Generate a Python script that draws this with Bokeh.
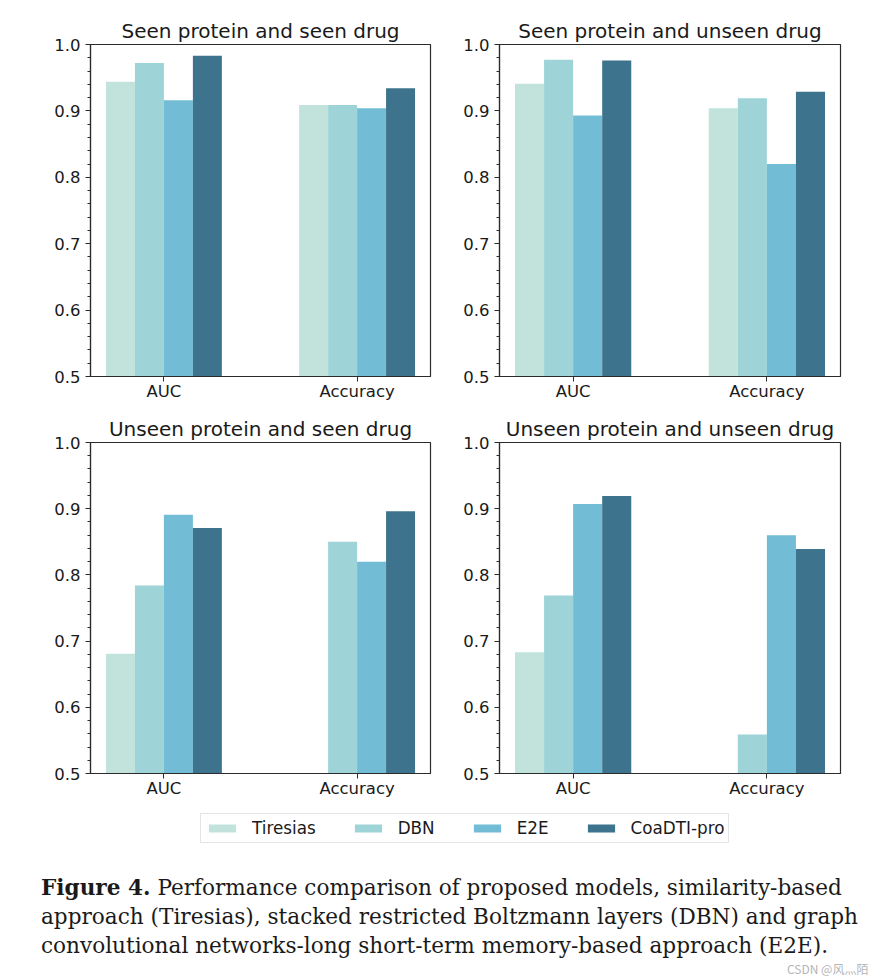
import numpy as np
from bokeh.plotting import figure
from bokeh.layouts import column, row
from bokeh.models import (Range1d, FixedTicker, PrintfTickFormatter, Legend,
                          LegendItem, ColumnDataSource, Div)
from bokeh.embed import file_html
from bokeh.resources import INLINE

# ---------------- data ----------------
metrics = ["AUC", "Accuracy"]
models = ["Tiresias", "DBN", "E2E", "CoaDTI-pro"]
colors = ["#c1e3dc", "#9ed3d7", "#72bdd5", "#3d738c"]

panel_titles = ["Seen protein and seen drug", "Seen protein and unseen drug",
                "Unseen protein and seen drug", "Unseen protein and unseen drug"]

# values per panel: [AUC, Accuracy] for each model (None = not shown)
tiresias = [[0.944, 0.909], [0.941, 0.904], [0.681, None], [0.683, None]]
dbn      = [[0.972, 0.909], [0.977, 0.919], [0.784, 0.850], [0.769, 0.559]]
e2e      = [[0.916, 0.904], [0.893, 0.820], [0.891, 0.820], [0.907, 0.860]]
coadti   = [[0.983, 0.934], [0.976, 0.929], [0.871, 0.896], [0.919, 0.839]]
series = [tiresias, dbn, e2e, coadti]

y_ticks = [0.5, 0.6, 0.7, 0.8, 0.9, 1.0]

BAR_W = 0.15
FONT = "DejaVu Sans"
AX = "#2b2b2b"


def make_panel(k, width, height, bl, br, bt, bb):
    p = figure(width=width, height=height, output_backend="svg",
               toolbar_location=None, x_range=Range1d(-0.38, 1.38),
               y_range=Range1d(0.5, 1.0), title=panel_titles[k],
               min_border_left=bl, min_border_right=br,
               min_border_top=bt, min_border_bottom=bb)
    p.title.align = "center"
    p.title.text_font = FONT
    p.title.text_font_size = "20px"
    p.title.text_font_style = "normal"
    p.title.text_color = "#1a1a1a"
    p.title.standoff = 4
    p.grid.visible = False
    p.outline_line_color = AX
    p.outline_line_width = 1.2
    p.background_fill_color = "white"
    p.border_fill_color = "white"

    for j, ser in enumerate(series):
        xs, tops = [], []
        for i, v in enumerate(ser[k]):
            if v is None:
                continue
            xs.append(i + (j - 1.5) * BAR_W)
            tops.append(v)
        src = ColumnDataSource(dict(x=xs, top=tops))
        p.vbar(x="x", top="top", bottom=0.5, width=BAR_W, source=src,
               fill_color=colors[j], line_color=None)

    # axes
    p.xaxis.ticker = FixedTicker(ticks=[0, 1])
    p.xaxis.major_label_overrides = {0: metrics[0], 1: metrics[1]}
    p.yaxis.ticker = FixedTicker(ticks=y_ticks,
                                 minor_ticks=list(np.round(np.arange(0.5, 1.0001, 0.02), 2)))
    p.yaxis.formatter = PrintfTickFormatter(format="%.1f")
    for ax in (p.xaxis[0], p.yaxis[0]):
        ax.axis_line_color = AX
        ax.axis_line_width = 1.2
        ax.major_tick_line_color = AX
        ax.minor_tick_line_color = AX
        ax.major_tick_in = 0
        ax.major_tick_out = 5
        ax.minor_tick_in = 0
        ax.minor_tick_out = 3
        ax.major_label_text_font = FONT
        ax.major_label_text_font_size = "16.5px"
        ax.major_label_text_color = "#1a1a1a"
    p.yaxis.major_label_standoff = 5
    p.xaxis.major_label_standoff = 0
    return p


f1 = make_panel(0, 440, 405, 90, 10, 44, 29)
f2 = make_panel(1, 410, 405, 59, 10, 44, 29)
f3 = make_panel(2, 440, 400, 90, 10, 37, 32)
f4 = make_panel(3, 410, 400, 59, 10, 37, 32)

# legend figure
lf = figure(width=850, height=53, output_backend="svg", toolbar_location=None,
            x_range=Range1d(0, 1), y_range=Range1d(0, 1),
            min_border=0, outline_line_color=None)
lf.axis.visible = False
lf.grid.visible = False
items = []
for j, name in enumerate(models):
    # proxy renderers placed outside the visible range, only used by the legend
    r = lf.vbar(x=[5.0], top=[5.0], bottom=[4.0], width=0.1,
                fill_color=colors[j], line_color=None)
    items.append(LegendItem(label=name, renderers=[r]))
leg = Legend(items=items, orientation="horizontal", location=(200, 15),
             glyph_width=34, glyph_height=10, spacing=35, label_standoff=13,
             label_text_font=FONT, label_text_font_size="16.8px",
             label_text_color="#1a1a1a", padding=4, margin=0,
             border_line_color="#cccccc", border_line_width=1,
             background_fill_alpha=1.0)
lf.add_layout(leg, "center")

caption = Div(text=(
    '<div style="position:relative; width:850px; height:116px;">'
    '<div style="margin-left:36px; padding-top:10px; font-family:\'DejaVu Serif\', serif; '
    'font-size:21.6px; line-height:29px; color:#1a1a1a; white-space:nowrap;">'
    '<b>Figure 4.</b> Performance comparison of proposed models, similarity-based<br>'
    'approach (Tiresias), stacked restricted Boltzmann layers (DBN) and graph<br>'
    'convolutional networks-long short-term memory-based approach (E2E).'
    '</div>'
    '<span style="position:absolute; left:782px; top:99px; white-space:nowrap; '
    'font-family:\'Noto Sans CJK SC\', sans-serif; line-height:13px; '
    'font-size:12px; color:#b5b5b5;">CSDN @风灬陌</span>'
    '</div>'), width=850, height=116)

layout = column(row(f1, f2), row(f3, f4), lf, caption)

with open("out.html", "w") as fh:
    fh.write(file_html(layout, INLINE))
